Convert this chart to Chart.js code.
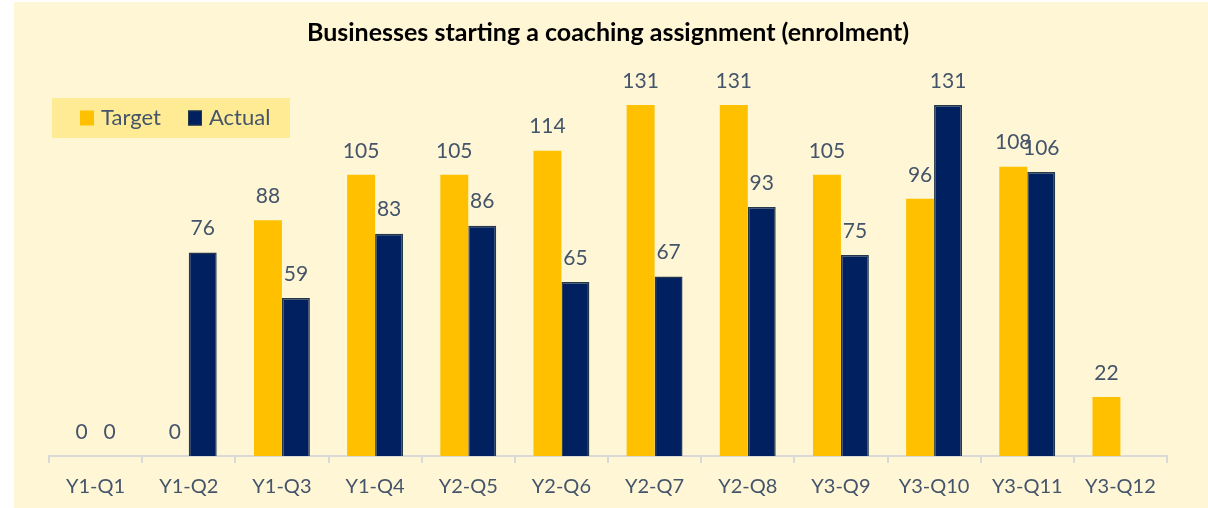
<!DOCTYPE html>
<html>
<head>
<meta charset="utf-8">
<script src="https://cdn.jsdelivr.net/npm/chart.js@4.4.1/dist/chart.umd.min.js"></script>
<style>
  html, body { margin: 0; padding: 0; background: #ffffff; }
  #wrap { width: 1208px; height: 508px; position: relative; }
</style>
</head>
<body>
<div id="wrap"><canvas id="c" width="1208" height="508"></canvas></div>
<script>
const categories = ['Y1-Q1','Y1-Q2','Y1-Q3','Y1-Q4','Y2-Q5','Y2-Q6','Y2-Q7','Y2-Q8','Y3-Q9','Y3-Q10','Y3-Q11','Y3-Q12'];
const targetValues = [0, 0, 88, 105, 105, 114, 131, 131, 105, 96, 108, 22];
const actualValues = [0, 76, 59, 83, 86, 65, 67, 93, 75, 131, 106, null];
const chartTitle = 'Businesses starting a coaching assignment (enrolment)';

const FONT = 'Lato, "Open Sans", sans-serif';
const TEXT = '#44546A';
const GOLD = '#FFC000';
const NAVY = '#002060';

const bgPlugin = {
  id: 'bg',
  beforeDraw(chart) {
    const ctx = chart.ctx;
    ctx.save();
    ctx.fillStyle = '#ffffff';
    ctx.fillRect(0, 0, chart.width, chart.height);
    ctx.fillStyle = '#FFF6D6';
    ctx.fillRect(14, 2, chart.width - 14, chart.height - 2);
    ctx.restore();
  }
};

const labelPlugin = {
  id: 'valueLabels',
  afterDatasetsDraw(chart) {
    const ctx = chart.ctx;
    ctx.save();
    ctx.font = '21px ' + FONT;
    ctx.fillStyle = TEXT;
    ctx.textAlign = 'center';
    ctx.textBaseline = 'middle';
    chart.data.datasets.forEach((ds, i) => {
      const meta = chart.getDatasetMeta(i);
      meta.data.forEach((el, j) => {
        const v = ds.data[j];
        if (v === null || v === undefined) return;
        ctx.fillText(String(v), el.x, el.y - 24);
      });
    });
    ctx.restore();
  }
};

const legendPlugin = {
  id: 'boxLegend',
  afterDraw(chart) {
    const ctx = chart.ctx;
    const a = chart.chartArea;
    const x0 = a.left + 3, y0 = 98;
    ctx.save();
    ctx.fillStyle = '#FFEB94';
    ctx.fillRect(x0, y0, 238, 40);
    ctx.font = '22px ' + FONT;
    ctx.textBaseline = 'middle';
    ctx.textAlign = 'left';
    let x = x0 + 28;
    const yMid = y0 + 20;
    chart.data.datasets.forEach((ds) => {
      ctx.fillStyle = ds.backgroundColor;
      ctx.fillRect(x, yMid - 7.5, 14, 15);
      if (ds.borderWidth) {
        ctx.strokeStyle = ds.borderColor;
        ctx.lineWidth = 1;
        ctx.strokeRect(x + 0.5, yMid - 7, 13, 14);
      }
      ctx.fillStyle = TEXT;
      ctx.fillText(ds.label, x + 21, yMid);
      x += 108;
    });
    ctx.restore();
  }
};

new Chart(document.getElementById('c'), {
  type: 'bar',
  data: {
    labels: categories,
    datasets: [
      { label: 'Target', data: targetValues, backgroundColor: GOLD, borderWidth: 0 },
      { label: 'Actual', data: actualValues, backgroundColor: NAVY, borderColor: '#25384A', borderWidth: 1.5 }
    ]
  },
  options: {
    responsive: false,
    animation: false,
    devicePixelRatio: 1,
    layout: { padding: { left: 49, right: 41, top: 0, bottom: -3 } },
    datasets: { bar: { categoryPercentage: 0.6, barPercentage: 1.0 } },
    plugins: {
      legend: { display: false },
      tooltip: { enabled: false },
      title: {
        display: true,
        text: chartTitle,
        color: '#000000',
        font: { family: FONT, size: 25, weight: 'bold' },
        padding: { top: 18, bottom: 33 }
      }
    },
    scales: {
      x: {
        grid: { offset: true, drawOnChartArea: false, tickLength: 7, color: '#D9D9D9', lineWidth: 2 },
        border: { color: '#D9D9D9', width: 2 },
        ticks: { color: TEXT, font: { family: FONT, size: 20, lineHeight: 1 }, padding: 14, maxRotation: 0 }
      },
      y: { display: false, min: 0, max: 140 }
    }
  },
  plugins: [bgPlugin, labelPlugin, legendPlugin]
});
</script>
</body>
</html>
